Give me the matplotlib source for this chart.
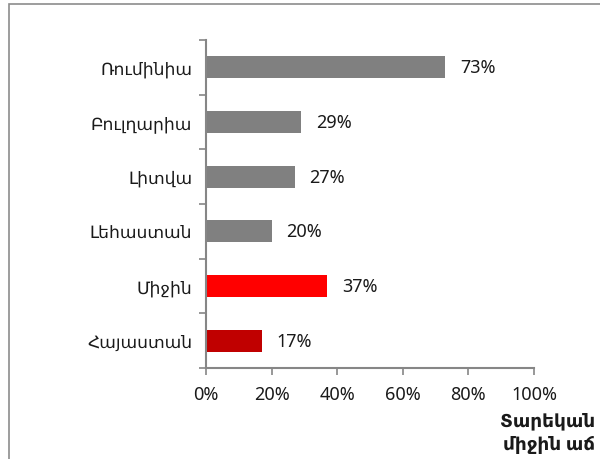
import numpy as np
import matplotlib.pyplot as plt
from matplotlib.patches import Rectangle

# Data
countries = ['Ռումինիա', 'Բուլղարիա', 'Լիտվա', 'Լեհաստան', 'Միջին', 'Հայաստան']
growth = [0.73, 0.29, 0.27, 0.20, 0.37, 0.17]
bar_colors = ['#808080', '#808080', '#808080', '#808080', '#FF0000', '#C00000']
x_ticks = [0, 0.2, 0.4, 0.6, 0.8, 1.0]
x_tick_labels = ['0%', '20%', '40%', '60%', '80%', '100%']

plt.rcParams['font.family'] = ['Noto Sans', 'DejaVu Sans']
axis_gray = '#868686'
text_color = '#1a1a1a'
fs = 13

fig = plt.figure(figsize=(6, 4.6), dpi=100)
fig.patches.append(Rectangle((9 / 600, -0.1), 1.2, 1.1 - 5 / 460,
                             transform=fig.transFigure, fill=False,
                             edgecolor='#8c8c8c', linewidth=1.2))

ax = fig.add_axes([206 / 600, 91 / 460, 328 / 600, 328 / 460])
y = np.arange(len(countries))
ax.barh(y, growth, height=0.4, color=bar_colors)

for yi, v in zip(y, growth):
    ax.text(v + 0.045, yi, f'{round(v * 100):.0f}%', va='center', ha='left',
            fontsize=fs, color=text_color)

ax.set_xlim(0, 1.0)
ax.set_ylim(len(countries) - 0.5, -0.5)
ax.set_xticks(x_ticks)
ax.set_xticklabels(x_tick_labels, fontsize=fs, color=text_color)
ax.set_yticks(y)
ax.set_yticklabels(countries, fontsize=12.3, color=text_color)
ax.tick_params(axis='y', which='major', length=0, pad=10)
ax.set_yticks(np.arange(-0.5, len(countries)), minor=True)
ax.tick_params(axis='y', which='minor', length=5, color=axis_gray, width=1.2)
ax.tick_params(axis='x', length=5, color=axis_gray, width=1.2, pad=7)

for side in ['top', 'right']:
    ax.spines[side].set_visible(False)
for side in ['left', 'bottom']:
    ax.spines[side].set_color(axis_gray)
    ax.spines[side].set_linewidth(1.5)

fig.text(595 / 600, 1 - 412 / 460, 'Տարեկան\nմիջին աճ', ha='right', va='top',
         fontsize=13.3, fontweight='bold', color=text_color, linespacing=1.4)

fig.savefig('out.png', dpi=100)
